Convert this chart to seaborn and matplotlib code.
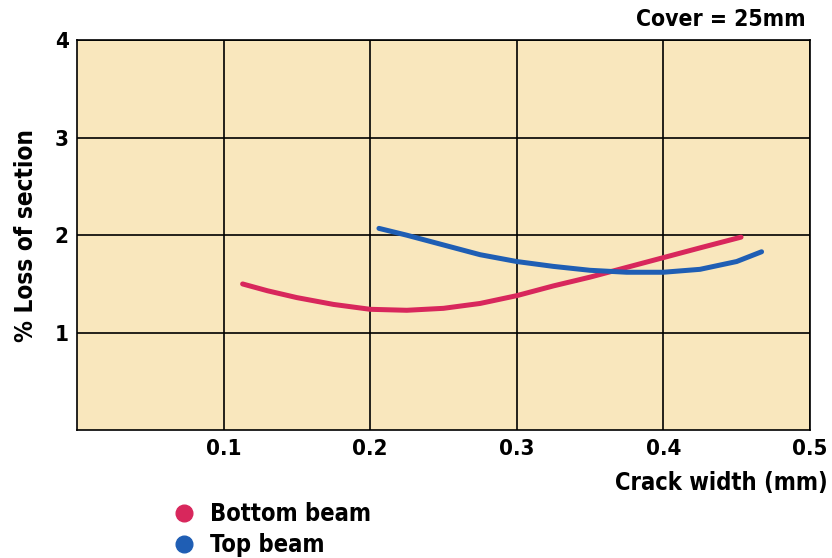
import matplotlib
matplotlib.use("Agg")
import matplotlib.pyplot as plt
from matplotlib.lines import Line2D
import pandas as pd
import seaborn as sns

# crack width (mm) vs % loss of section
bottom_x = [0.113, 0.13, 0.15, 0.175, 0.20, 0.225, 0.25, 0.275, 0.30, 0.325,
            0.35, 0.375, 0.40, 0.425, 0.453]
bottom_y = [1.50, 1.43, 1.36, 1.29, 1.24, 1.23, 1.25, 1.30, 1.38, 1.48,
            1.57, 1.67, 1.77, 1.87, 1.98]
top_x = [0.206, 0.225, 0.25, 0.275, 0.30, 0.325, 0.35, 0.375, 0.40, 0.425,
         0.45, 0.467]
top_y = [2.07, 2.00, 1.90, 1.80, 1.73, 1.68, 1.64, 1.62, 1.62, 1.65,
         1.73, 1.83]

x_ticks = [0.1, 0.2, 0.3, 0.4, 0.5]
y_ticks = [1, 2, 3, 4]

RED = "#d8275c"
BLUE = "#1f5eb4"
CREAM = "#f9e7bd"

df = pd.concat([
    pd.DataFrame({"x": bottom_x, "y": bottom_y, "series": "Bottom beam"}),
    pd.DataFrame({"x": top_x, "y": top_y, "series": "Top beam"}),
])

sns.set_style("white")
plt.rcParams["font.family"] = ["DejaVu Sans"]
plt.rcParams["font.stretch"] = "condensed"
plt.rcParams["font.weight"] = "bold"
for k in ("text.color", "axes.labelcolor", "xtick.color", "ytick.color"):
    plt.rcParams[k] = "black"

fig = plt.figure(figsize=(8.32, 5.58), dpi=100)
ax = fig.add_axes([0.0925, 0.229, 0.881, 0.699])
ax.set_facecolor(CREAM)

sns.lineplot(data=df, x="x", y="y", hue="series", sort=False,
             palette={"Bottom beam": RED, "Top beam": BLUE},
             linewidth=3.6, legend=False, ax=ax,
             solid_capstyle="round", solid_joinstyle="round")

ax.set_xlim(0, 0.5)
ax.set_ylim(0, 4)
ax.set_xticks(x_ticks)
ax.set_xticklabels([f"{t:.1f}" for t in x_ticks])
ax.set_yticks(y_ticks)
ax.set_yticklabels([str(t) for t in y_ticks])
ax.tick_params(length=0, labelsize=16, pad=6)
ax.grid(True, color="black", linewidth=1.2)
ax.set_axisbelow(True)
for sp in ax.spines.values():
    sp.set_color("black")
    sp.set_linewidth(1.2)

ax.set_xlabel("")
ax.set_ylabel("% Loss of section", fontsize=17.5, fontweight="bold", labelpad=12)
fig.text(0.995, 0.134, "Crack width (mm)", ha="right", va="center",
         fontsize=17, fontweight="bold")
fig.text(0.968, 0.965, "Cover = 25mm", ha="right", va="center",
         fontsize=16.5, fontweight="bold")

handles = [Line2D([], [], marker="o", linestyle="", markersize=12, color=c)
           for c in (RED, BLUE)]
fig.legend(handles, ["Bottom beam", "Top beam"], loc="upper left",
           bbox_to_anchor=(0.207, 0.1), frameon=False, fontsize=17,
           handletextpad=0.6, labelspacing=0.3, borderpad=0, borderaxespad=0,
           handlelength=1.0)

fig.savefig("out.png", dpi=100, facecolor="white")
